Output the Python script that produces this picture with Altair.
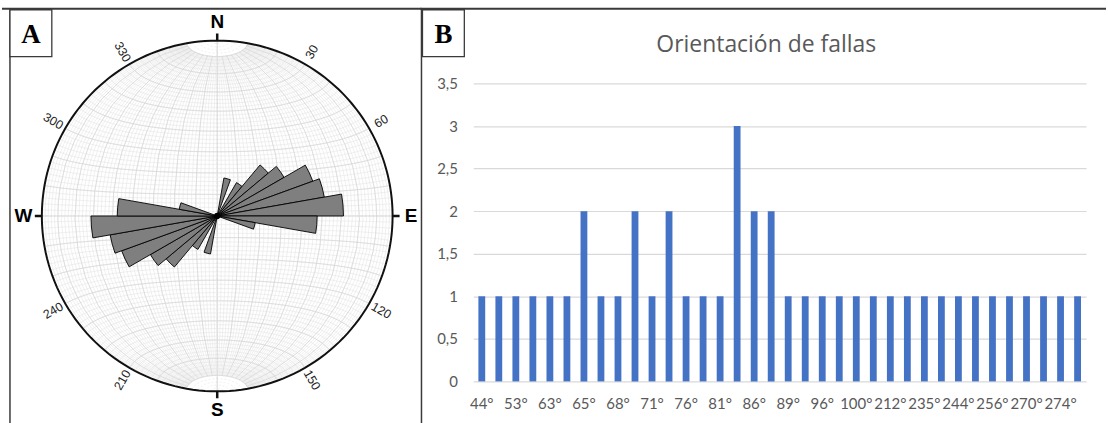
import math
import altair as alt
import pandas as pd

# ---------------- Panel A: rose diagram of fault strikes (bidirectional, 10 degree bins) ----------------
rose_bin_start = [10, 30, 40, 50, 60, 70, 80, 90, 100]
rose_length = [22, 22, 38, 44, 58, 62, 72, 57, 22]          # petal length, % of net radius
degree_marks = [30, 60, 120, 150, 210, 240, 300, 330]
compass_names = ["N", "E", "S", "W"]
compass_az = [0, 90, 180, 270]

# ---------------- Panel B: bar chart ----------------
bar_title = "Orientación de fallas"
bar_categories = ["44°", "48°", "53°", "58°", "63°", "64°", "65°", "67°", "68°", "70°",
                  "71°", "74°", "76°", "78°", "81°", "84°", "86°", "88°", "89°", "92°",
                  "96°", "98°", "100°", "105°", "212°", "230°", "235°", "240°", "244°", "250°",
                  "256°", "265°", "270°", "272°", "274°", "278°"]
bar_counts = [1, 1, 1, 1, 1, 1, 2, 1, 1, 2,
              1, 2, 1, 1, 1, 3, 2, 2, 1, 1,
              1, 1, 1, 1, 1, 1, 1, 1, 1, 1,
              1, 1, 1, 1, 1, 1]
shown_labels = ["44°", "53°", "63°", "65°", "68°", "71°", "76°", "81°", "86°", "89°",
                "96°", "100°", "212°", "235°", "244°", "256°", "270°", "274°"]
y_ticks = [0, 0.5, 1, 1.5, 2, 2.5, 3, 3.5]

# ---------------- geometry / style ----------------
CX, CY, R = 216, 215, 176
theta_sc = alt.Scale(domain=[0, 360], range=[0, 2 * math.pi])
rad_sc = alt.Scale(type="linear", domain=[0, 100], range=[0, R], zero=True)
proj = dict(type="azimuthalEqualArea", scale=R / math.sqrt(2), translate=[CX, CY],
            clipAngle=90, rotate=[0, 0, 0])

rows = []
for s, r in zip(rose_bin_start, rose_length):
    for off in (0, 180):
        rows.append({"start": s + off, "end": s + off + 10, "r": r})
rose_df = pd.DataFrame(rows)

deg_df = pd.DataFrame({"az": degree_marks, "label": [str(d) for d in degree_marks]})
deg_df["rot"] = ((deg_df["az"] % 180) + 270) % 360
deg_df["r"] = 108

comp_df = pd.DataFrame({"az": compass_az, "label": compass_names})
comp_df["r"] = 110.5
comp_df["t0"] = comp_df["az"] - 0.4
comp_df["t1"] = comp_df["az"] + 0.4
comp_df["r0"] = 100
comp_df["r1"] = 104

grid_minor = alt.Chart(alt.graticule(stepMinor=[2, 2])).mark_geoshape(
    filled=False, stroke="#e3e3e3", strokeWidth=0.55).project(**proj)
cap_north = alt.Chart(alt.graticule(extentMinor=[[-180, 80], [180, 89.5]], stepMinor=[360, 2],
                                    stepMajor=[360, 360])).mark_geoshape(
    filled=False, stroke="#e6e6e6", strokeWidth=0.6, strokeDash=[2, 2]).project(**proj)
cap_south = alt.Chart(alt.graticule(extentMinor=[[-180, -89.5], [180, -80]], stepMinor=[360, 2],
                                    stepMajor=[360, 360])).mark_geoshape(
    filled=False, stroke="#e6e6e6", strokeWidth=0.6, strokeDash=[2, 2]).project(**proj)
grid_major = alt.Chart(alt.graticule(stepMinor=[10, 10])).mark_geoshape(
    filled=False, stroke="#d6d6d6", strokeWidth=0.7).project(**proj)
outline = alt.Chart(alt.sphere()).mark_geoshape(
    filled=False, stroke="#111111", strokeWidth=2).project(**proj)

petals = alt.Chart(rose_df).mark_arc(fill="#7f7f7f", stroke="#000000", strokeWidth=0.9).encode(
    theta=alt.Theta("start:Q", scale=theta_sc, stack=False),
    theta2="end:Q",
    radius=alt.Radius("r:Q", scale=rad_sc),
    x=alt.value(CX), y=alt.value(CY),
)

hub = alt.Chart(pd.DataFrame({"k": [0]})).mark_circle(color="#000000", opacity=1, size=40).encode(
    x=alt.value(CX), y=alt.value(CY))

ticks = alt.Chart(comp_df).mark_arc(fill="#111111").encode(
    theta=alt.Theta("t0:Q", scale=theta_sc, stack=False),
    theta2="t1:Q",
    radius=alt.Radius("r1:Q", scale=rad_sc),
    radius2="r0:Q",
    x=alt.value(CX), y=alt.value(CY),
)

deg_text = alt.Chart(deg_df).mark_text(font="Liberation Sans", fontSize=12.5, color="#222222",
                                       align="center", baseline="middle").encode(
    theta=alt.Theta("az:Q", scale=theta_sc, stack=False),
    radius=alt.Radius("r:Q", scale=rad_sc),
    text="label:N",
    angle=alt.Angle("rot:Q", scale=None),
    x=alt.value(CX), y=alt.value(CY),
)

comp_text = alt.Chart(comp_df).mark_text(font="Liberation Sans", fontSize=19, fontWeight="bold",
                                         color="#000000", align="center", baseline="middle").encode(
    theta=alt.Theta("az:Q", scale=theta_sc, stack=False),
    radius=alt.Radius("r:Q", scale=rad_sc),
    text="label:N",
    x=alt.value(CX), y=alt.value(CY),
)

frame_df = pd.DataFrame({"k": [0]})
top_line_a = alt.Chart(frame_df).mark_rule(color="#3a3a3a", strokeWidth=2).encode(
    x=alt.value(0), x2=alt.value(421), y=alt.value(7))
left_line_a = alt.Chart(frame_df).mark_rule(color="#3a3a3a", strokeWidth=1.5).encode(
    x=alt.value(8), y=alt.value(7), y2=alt.value(423))
box_a = alt.Chart(frame_df).mark_rect(fill="white", stroke="#3a3a3a", strokeWidth=1.3).encode(
    x=alt.value(8), x2=alt.value(50), y=alt.value(8), y2=alt.value(55))
letter_a = alt.Chart(pd.DataFrame({"t": ["A"]})).mark_text(
    font="Liberation Serif", fontSize=27, fontWeight="bold", color="#000000",
    align="center", baseline="middle").encode(text="t:N", x=alt.value(29), y=alt.value(33))

panel_a = alt.layer(grid_minor, cap_north, cap_south, grid_major, outline, petals, hub, ticks,
                    deg_text, comp_text, top_line_a, left_line_a, box_a, letter_a).properties(
    width=420, height=423)

# ---------------- Panel B ----------------
bar_df = pd.DataFrame({"orient": bar_categories, "n": bar_counts})
bars = alt.Chart(bar_df).mark_bar(color="#4472C4").encode(
    x=alt.X("orient:N", sort=None, title=None,
            scale=alt.Scale(paddingInner=0.6, paddingOuter=0.3),
            axis=alt.Axis(values=shown_labels, labelAngle=0, labelFont="Lato", labelFontSize=15,
                          labelColor="#595959", domain=False, ticks=False, tickSize=0,
                          labelPadding=15, labelOverlap=False, grid=False)),
    y=alt.Y("n:Q", title=None,
            scale=alt.Scale(domain=[0, 3.5], range=[381, 82], nice=False),
            axis=alt.Axis(values=y_ticks, format="~g", labelExpr="replace(datum.label, '.', ',')",
                          labelFont="Lato", labelFontSize=15, labelColor="#595959",
                          domain=False, ticks=False, tickSize=0, labelPadding=16,
                          grid=True, gridColor="#d9d9d9", gridWidth=1.2)),
)

title_b = alt.Chart(pd.DataFrame({"t": [bar_title]})).mark_text(
    font="Open Sans", fontSize=23, color="#595959", align="center", baseline="middle").encode(
    text="t:N", x=alt.value(294), y=alt.value(43))
top_line_b = alt.Chart(frame_df).mark_rule(color="#3a3a3a", strokeWidth=2).encode(
    x=alt.value(-53), x2=alt.value(635), y=alt.value(7))
left_line_b = alt.Chart(frame_df).mark_rule(color="#3a3a3a", strokeWidth=1.5).encode(
    x=alt.value(-52), y=alt.value(7), y2=alt.value(423))
box_b = alt.Chart(frame_df).mark_rect(fill="white", stroke="#3a3a3a", strokeWidth=1.3).encode(
    x=alt.value(-51), x2=alt.value(-9), y=alt.value(8), y2=alt.value(55))
letter_b = alt.Chart(pd.DataFrame({"t": ["B"]})).mark_text(
    font="Liberation Serif", fontSize=27, fontWeight="bold", color="#000000",
    align="center", baseline="middle").encode(text="t:N", x=alt.value(-30), y=alt.value(33))

panel_b = alt.layer(bars, title_b, top_line_b, left_line_b, box_b, letter_b).properties(
    width=615, height=381)

chart = alt.hconcat(panel_a, panel_b, spacing=53, bounds="flush", padding=0).configure_view(
    stroke="transparent")

chart.save("out.html", embed_options={"renderer": "svg", "actions": False})
